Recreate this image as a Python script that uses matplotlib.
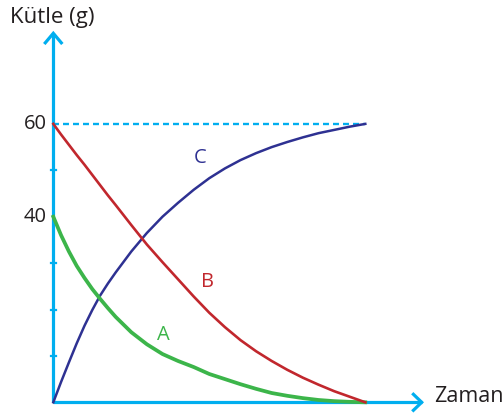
import matplotlib
matplotlib.use("Agg")
import matplotlib.pyplot as plt

# ---- data ----
t = [0, 0.25, 0.5, 0.75, 1, 1.25, 1.5, 1.75, 2, 2.5, 3, 3.5, 4, 4.5, 5, 5.5, 6, 6.5, 7, 7.5, 8, 8.5, 9, 9.5, 10]
mass_A = [40, 36.0, 32.5, 29.4, 26.8, 24.4, 22.3, 20.3, 18.4, 15.1, 12.5, 10.4, 8.9, 7.6, 6.1, 5.0, 3.9, 2.9, 2.0, 1.4, 0.9, 0.5, 0.25, 0.1, 0]
mass_B = [60, 57.7, 55.5, 53.3, 51.2, 49.0, 46.8, 44.6, 42.5, 38.2, 34.0, 30.2, 26.5, 22.8, 19.3, 16.2, 13.4, 11.0, 8.9, 7.0, 5.3, 3.8, 2.4, 1.2, 0]
mass_C = [0, 4.4, 8.6, 12.7, 16.5, 19.9, 23.0, 25.6, 28.0, 32.5, 36.5, 40.0, 43.0, 45.8, 48.3, 50.4, 52.2, 53.7, 55.0, 56.1, 57.1, 58.0, 58.7, 59.4, 60]
ytick_vals = [10, 20, 30, 50]
ytick_labels = {60: "60", 40: "40"}
curve_labels = [("A", 3.52, 14.6), ("B", 4.93, 26.0), ("C", 4.70, 52.65)]
x_title = "Zaman"
y_title = "Kütle (g)"

plt.rcParams['font.family'] = ['Open Sans', 'DejaVu Sans']
plt.rcParams['lines.scale_dashes'] = False

W, H = 504, 416
fig = plt.figure(figsize=(W / 100, H / 100), dpi=100)
ax = fig.add_axes([0, 0, 1, 1])
ax.set_axis_off()

# pixel mapping: x=0 -> 53.3px, 31.2 px/unit ; y=0 -> 402.3px from top, 4.64 px/unit
px_x, x0 = 31.2, 53.3
px_y, y0 = 4.64, 416 - 402.3
ax.set_xlim(-x0 / px_x, (W - x0) / px_x)
ax.set_ylim(-y0 / px_y, (H - y0) / px_y)

axis_col = '#00aeef'
txt_col = '#231f20'

# axes with open arrows
ytip = (402.3 - 33.3) / px_y
xtip = (421.7 - x0) / px_x
ax.plot([0, 0], [0, ytip], color=axis_col, lw=2.3, solid_capstyle='butt', zorder=2)
ax.plot([0, xtip], [0, 0], color=axis_col, lw=2.3, solid_capstyle='butt', zorder=2)
ax.plot([-8 / px_x, 0, 8 / px_x], [ytip - 9.5 / px_y, ytip, ytip - 9.5 / px_y],
        color=axis_col, lw=2.3, solid_joinstyle='miter', zorder=2)
ax.plot([xtip - 8.3 / px_x, xtip, xtip - 8.3 / px_x], [8 / px_y, 0, -8 / px_y],
        color=axis_col, lw=2.3, solid_joinstyle='miter', zorder=2)

# small ticks
for v in ytick_vals:
    ax.plot([-2.6 / px_x, 2.6 / px_x], [v, v], color=axis_col, lw=1.6, zorder=2)

# dashed 60 line
ax.plot([0, 10], [60, 60], color=axis_col, lw=1.7, dashes=(4.3, 2.9), zorder=2)

# curves
ax.plot(t, mass_C, color='#2e3192', lw=1.8, zorder=3)
ax.plot(t, mass_A, color='#3cb54a', lw=2.7, zorder=4)
ax.plot(t, mass_B, color='#c1272d', lw=1.9, zorder=5)

# tick labels
for v, s in ytick_labels.items():
    ax.text(-6.3 / px_x, v, s, ha='right', va='center', fontsize=14.5, color=txt_col)

# curve labels
cols = {"A": '#3cb54a', "B": '#c1272d', "C": '#2e3192'}
for name, xx, yy in curve_labels:
    ax.text(xx, yy, name, ha='center', va='center', fontsize=14.5, color=cols[name])

# axis titles
fig.text(10 / W, 1 - 23.3 / H, y_title, ha='left', va='baseline', fontsize=16, color=txt_col)
fig.text(434 / W, 1 - 401.7 / H, x_title, ha='left', va='baseline', fontsize=15.5, color=txt_col)

fig.savefig('out.png', dpi=100)
